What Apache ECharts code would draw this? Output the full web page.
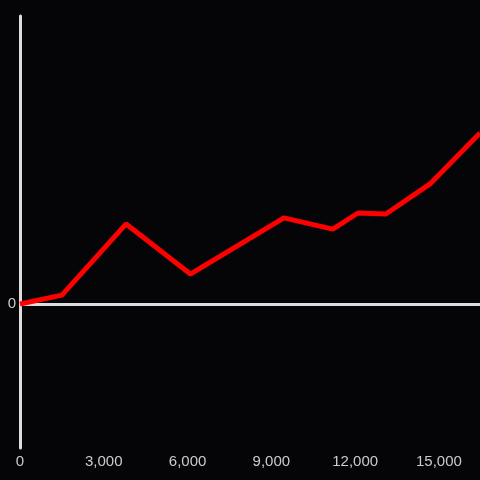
<!DOCTYPE html>
<html><head><meta charset="utf-8">
<script src="https://cdn.jsdelivr.net/npm/echarts@6/dist/echarts.min.js"></script>
<style>html,body{margin:0;padding:0;background:#050407;overflow:hidden;}#c{width:480px;height:480px;}</style>
</head><body><div id="c"></div>
<script>
var xValues = [0, 1500, 3800, 6100, 9450, 11200, 12100, 13100, 14680, 16470];
var yValues = [0, 3.1, 27.8, 10.4, 29.9, 26.0, 31.6, 31.25, 41.7, 59.4];
var xTicks = [0, 3000, 6000, 9000, 12000, 15000];
var yTickLabels = ['0'];

var chart = echarts.init(document.getElementById('c'), null, {renderer: 'canvas', width: 480, height: 480});
chart.setOption({
  backgroundColor: '#050407',
  animation: false,
  grid: {left: 20, right: 0, top: 16, bottom: 32, containLabel: false, outerBoundsMode: 'none'},
  xAxis: {
    type: 'value', min: 0, max: 16470, interval: 3000,
    axisLine: {show: false, onZero: false},
    axisTick: {show: false},
    splitLine: {show: false},
    axisLabel: {color: '#cccccc', fontSize: 15, margin: 6, fontFamily: 'Liberation Sans',
      formatter: function (v) { return xTicks.indexOf(v) >= 0 ? v.toLocaleString('en-US') : ''; }}
  },
  yAxis: {
    type: 'value', min: -50, max: 100, interval: 50,
    axisLine: {show: true, lineStyle: {color: '#dddddd', width: 3}},
    axisTick: {show: false},
    splitLine: {show: false},
    axisLabel: {color: '#cccccc', fontSize: 15, margin: 4, fontFamily: 'Liberation Sans',
      formatter: function (v) { return yTickLabels.indexOf(String(v)) >= 0 ? String(v) : ''; }}
  },
  series: [{
    type: 'line',
    data: xValues.map(function (x, i) { return [x, yValues[i]]; }),
    showSymbol: false,
    lineStyle: {color: '#ff0000', width: 5},
    z: 3,
    markLine: {
      silent: true, symbol: ['none', 'none'], label: {show: false},
      lineStyle: {color: '#dddddd', width: 3, type: 'solid'},
      data: [{yAxis: 0}],
      z: 1
    }
  }]
});
</script></body></html>
